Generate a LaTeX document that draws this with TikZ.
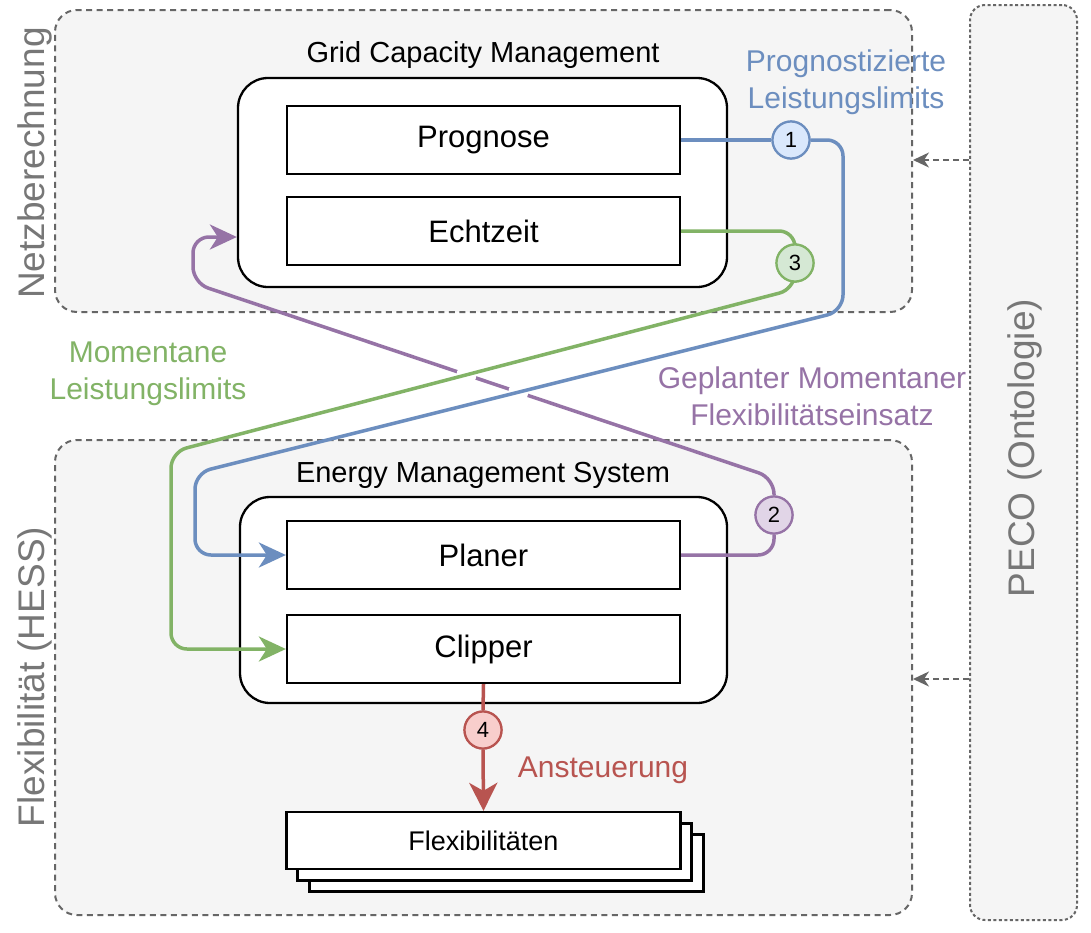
\documentclass[tikz,border=0pt]{standalone}
\usepackage{fontspec}
\setmainfont{Liberation Sans}
\usetikzlibrary{arrows.meta,intersections,calc}
\definecolor{cblue}{HTML}{6C8EBF}
\definecolor{cbluef}{HTML}{DAE8FC}
\definecolor{cgreen}{HTML}{82B366}
\definecolor{cgreenf}{HTML}{D5E8D4}
\definecolor{cpurple}{HTML}{9673A6}
\definecolor{cpurplef}{HTML}{E1D5E7}
\definecolor{cred}{HTML}{B85450}
\definecolor{credf}{HTML}{F8CECC}
\definecolor{cgrayf}{HTML}{F5F5F5}
\definecolor{cgrayd}{HTML}{666666}
\definecolor{cgrayt}{HTML}{777777}
\tikzset{
  container/.style={draw=cgrayd, fill=cgrayf, line width=2pt, dash pattern=on 6pt off 4.5pt, rounded corners=22pt, inner sep=0pt},
  pecobox/.style={draw=cgrayd, fill=cgrayf, line width=2pt, dash pattern=on 3pt off 2.5pt, rounded corners=15pt, inner sep=0pt},
  contlabel/.style={text=cgrayt, rotate=90, font=\fontsize{37}{40}\selectfont},
  outerbox/.style={draw=black, fill=white, line width=2.3pt, rounded corners=30pt, inner sep=0pt},
  innerbox/.style={draw=black, fill=white, line width=2.3pt, inner sep=0pt, minimum width=393pt, minimum height=68pt, font=\fontsize{31}{36}\selectfont},
  flexbox/.style={draw=black, fill=white, line width=2.3pt, inner sep=0pt, minimum width=394pt, minimum height=57pt, font=\fontsize{27}{32}\selectfont},
  title/.style={font=\fontsize{29}{34}\selectfont},
  lbl/.style={align=center, font=\fontsize{30}{37}\selectfont},
  num/.style={circle, line width=2.2pt, minimum size=37pt, inner sep=0pt, font=\fontsize{22}{24}\selectfont},
  conn/.style={line width=3.5pt, rounded corners=16pt},
  tip/.style={-{Stealth[length=27pt,width=25pt,inset=8pt]}},
  grayarrow/.style={draw=cgrayd, line width=2pt, dash pattern=on 6pt off 4pt, -{Stealth[length=16pt,width=15pt,inset=5pt]}}
}
\begin{document}
\begin{tikzpicture}[x=1pt,y=-1pt]
\useasboundingbox[fill=white] (0,0) rectangle (1091,932);

% containers
\node[container, minimum width=857pt, minimum height=302pt] (netz) at (483.5,161) {};
\node[container, minimum width=857pt, minimum height=475pt] (flex) at (483.5,677.5) {};
\node[pecobox, minimum width=107pt, minimum height=915pt] (peco) at (1023.5,462.5) {};
\node[contlabel] (lnetz) at (35,163) {Netzberechnung};
\node[contlabel] (lflex) at (35,677) {Flexibilität (HESS)};
\node[contlabel] (lpeco) at (1025,448) {PECO (Ontologie)};

% PECO arrows
\coordinate (pa1) at (0,160);
\coordinate (pa2) at (0,679);
\draw[grayarrow] (peco.west |- pa1) -- (netz.east |- pa1);
\draw[grayarrow] (peco.west |- pa2) -- (flex.east |- pa2);

% GCM
\node[title] (tgcm) at (483,55) {Grid Capacity Management};
\node[outerbox, minimum width=489pt, minimum height=209pt] (gcm) at (482.5,182.5) {};
\node[innerbox] (prog) at (483.5,140) {Prognose};
\node[innerbox] (echt) at (483.5,231) {Echtzeit};

% EMS
\node[title] (tems) at (483,475) {Energy Management System};
\node[outerbox, minimum width=487pt, minimum height=206pt] (ems) at (483.5,600) {};
\node[innerbox] (plan) at (483.5,555) {Planer};
\node[innerbox] (clip) at (483.5,649) {Clipper};

% Flexibilitaeten stack
\node[flexbox] (f3) at (506.5,863) {};
\node[flexbox] (f2) at (494.5,852) {};
\node[flexbox] (f1) at (483.5,840.5) {Flexibilitäten};

% number circles (positions)
\node[num, draw=cblue, fill=cbluef] (c1) at (791,140) {1};
\node[num, draw=cgreen, fill=cgreenf] (c3) at (795,263) {3};
\node[num, draw=cpurple, fill=cpurplef] (c2) at (774,515) {2};
\node[num, draw=cred, fill=credf] (c4) at (483,730) {4};

% purple connector (Planer -> GCM)
\draw[conn, draw=cpurple] (plan.east) -- (774,555) -- (c2.south);
\coordinate (pv) at (193,237);
\draw[conn, draw=cpurple, tip, name path=purp] (c2.north) -- (774,478) -- (193,283) -- (pv) -- (pv -| gcm.west);

% gaps in purple where the other lines cross
\path[name path=grnp] (795,289) -- (171,452);
\path[name path=blup] (843,311) -- (195,473);
\path[name intersections={of=purp and grnp, by=xg}];
\path[name intersections={of=purp and blup, by=xb}];
\fill[white] (xg) circle (10pt);
\fill[white] (xb) circle (10pt);

% blue connector (Prognose -> Planer)
\draw[conn, draw=cblue] (prog.east) -- (c1.west);
\draw[conn, draw=cblue, tip] (c1.east) -- (843,140) -- (843,311) -- (195,473) -- (195,555) -- (plan.west);

% green connector (Echtzeit -> Clipper)
\draw[conn, draw=cgreen] (echt.east) -- (795,231) -- (c3.north);
\draw[conn, draw=cgreen, tip] (c3.south) -- (795,289) -- (171,452) -- (171,649) -- (clip.west);

% red connector (Clipper -> Flexibilitaeten)
\draw[line width=3.5pt, draw=cred] (clip.south) -- (c4.north);
\draw[line width=3.5pt, draw=cred, -{Stealth[length=28pt,width=28pt,inset=8pt]}] (c4.south) -- (f1.north);

% circles on top of the lines
\node[num, draw=cblue, fill=cbluef] at (c1) {1};
\node[num, draw=cgreen, fill=cgreenf] at (c3) {3};
\node[num, draw=cpurple, fill=cpurplef] at (c2) {2};
\node[num, draw=cred, fill=credf] at (c4) {4};

% labels
\node[lbl, text=cblue] (lprog) at (846,82) {Prognostizierte\\Leistungslimits};
\node[lbl, text=cgreen] (lmom) at (148,374) {Momentane\\Leistungslimits};
\node[lbl, text=cpurple] (lgep) at (812,396) {Geplanter Momentaner\\Flexibilitätseinsatz};
\node[lbl, text=cred] (lans) at (603,770) {Ansteuerung};
\end{tikzpicture}
\end{document}
